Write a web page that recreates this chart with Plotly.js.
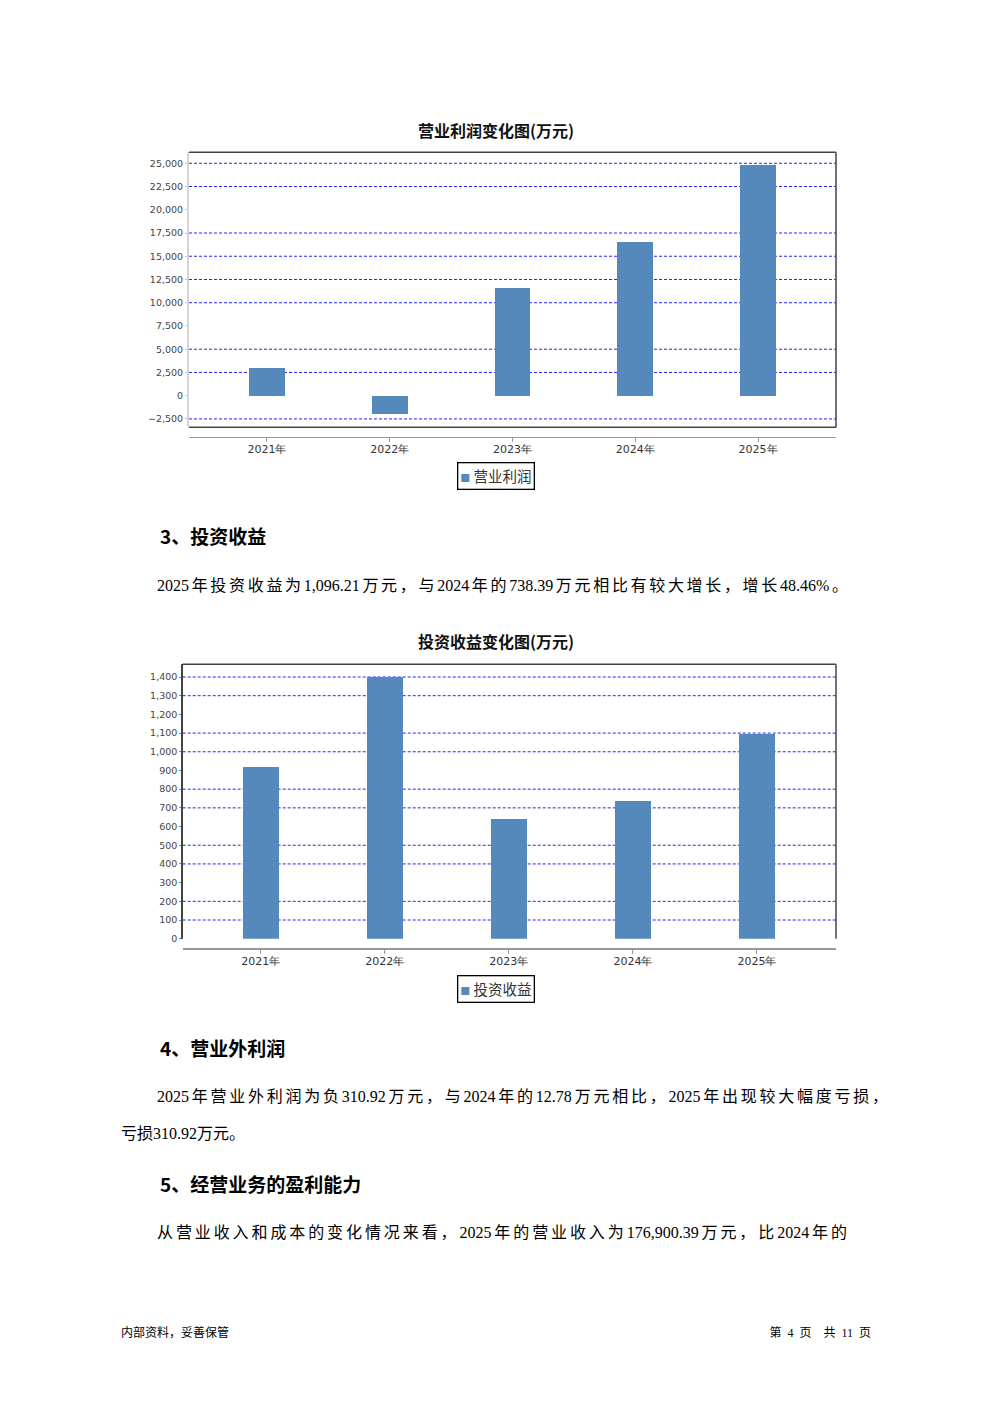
<!DOCTYPE html>
<html><head><meta charset="utf-8">
<script src="https://cdn.plot.ly/plotly-3.0.1.min.js"></script>
<style>
html,body{margin:0;padding:0;background:#fff;}
#page{position:relative;width:992px;height:1403px;overflow:hidden;background:#fff;}
#plot{position:absolute;left:0;top:0;width:992px;height:1403px;}
.t{position:absolute;white-space:nowrap;color:#000;z-index:5;font-family:"Liberation Serif","Noto Sans CJK SC",serif;}
.p{font-size:16px;line-height:20px;}
.j{text-align:justify;text-align-last:justify;text-justify:inter-character;}
.h{font-family:"Noto Sans CJK SC",sans-serif;font-weight:700;font-size:19px;line-height:24px;}
.f{font-size:12px;line-height:16px;}
</style></head>
<body>
<div id="page">
<div id="plot"></div>
<div class="t h" style="left:160px;top:524px;">3、投资收益</div>
<div class="t p j" style="left:157px;top:576px;width:691px;">2025年投资收益为1,096.21万元，与2024年的738.39万元相比有较大增长，增长48.46%。</div>
<div class="t h" style="left:160px;top:1036px;">4、营业外利润</div>
<div class="t p j" style="left:157px;top:1087px;width:731px;">2025年营业外利润为负310.92万元，与2024年的12.78万元相比，2025年出现较大幅度亏损，</div>
<div class="t p" style="left:121px;top:1124px;">亏损310.92万元。</div>
<div class="t h" style="left:160px;top:1172px;">5、经营业务的盈利能力</div>
<div class="t p j" style="left:157px;top:1223px;width:690px;">从营业收入和成本的变化情况来看，2025年的营业收入为176,900.39万元，比2024年的</div>
<div class="t f" style="left:121px;top:1325px;">内部资料，妥善保管</div>
<div class="t f" style="right:121px;top:1325px;word-spacing:3px;">第 4 页 &nbsp;共 11 页</div>
</div>
<script>
// ---- data ----
const years = ['2021年', '2022年', '2023年', '2024年', '2025年'];
const opProfitName = '营业利润';
const opProfit = [2950, -1970, 11630, 16530, 24810];
const invIncomeName = '投资收益';
const invIncome = [916, 1401, 642, 738.39, 1096.21];
const title1 = '营业利润变化图(万元)';
const title2 = '投资收益变化图(万元)';
const grid1 = [25000, 22500, 17500, 15000, 12500, 10000, 5000, 2500, -2500];
const grid2 = [1400, 1300, 1100, 1000, 800, 700, 500, 400, 200, 100];

// ---- helpers (pixel -> paper) ----
const W = 992, H = 1403;
const px = x => x / W;
const py = y => 1 - y / H;
const barColor = '#5589bb';
const tickFont = {family: 'DejaVu Sans, sans-serif', size: 9.5, color: '#444'};
const catFont = {family: 'DejaVu Sans, sans-serif', size: 11, color: '#333'};
const cjk = 'Noto Sans CJK SC, sans-serif';

const traces = [
  {type: 'bar', x: years, y: opProfit, name: opProfitName, xaxis: 'x', yaxis: 'y',
   width: 0.293, marker: {color: barColor}, showlegend: false, hoverinfo: 'x+y'},
  {type: 'bar', x: years, y: invIncome, name: invIncomeName, xaxis: 'x2', yaxis: 'y2',
   width: 0.29, marker: {color: barColor}, showlegend: false, hoverinfo: 'x+y'}
];

function gridShapes(vals, xr, yr) {
  return vals.map(v => ({type: 'line', xref: xr + ' domain', yref: yr, x0: 0, x1: 1, y0: v, y1: v,
    line: {color: '#2323ff', width: 1, dash: '3px,2px'}, layer: 'below'}));
}
const frameLine = (x0, y0, x1, y1, c) => ({type: 'line', xref: 'paper', yref: 'paper',
  x0: px(x0), y0: py(y0), x1: px(x1), y1: py(y1), line: {color: c || '#444', width: 1.5}, layer: 'above'});

const shapes = [].concat(
  gridShapes(grid1, 'x', 'y'),
  gridShapes(grid2, 'x2', 'y2'),
  [frameLine(189, 152.3, 836, 152.3), frameLine(836, 152.3, 836, 427.3), frameLine(189, 427.3, 836, 427.3),
   frameLine(182.7, 664.3, 836, 664.3), frameLine(836, 664.3, 836, 938.7)]
);

function legendAnn(name, x, y) {
  return {xref: 'paper', yref: 'paper', x: px(x), y: py(y), xanchor: 'left', yanchor: 'top',
    showarrow: false, bordercolor: '#000', borderwidth: 1.3, borderpad: 2, bgcolor: '#fff',
    text: '<span style="color:' + barColor + ';font-size:10px">■</span> ' + name,
    font: {family: cjk, size: 14.5, color: '#333'}};
}
function titleAnn(t, y) {
  return {xref: 'paper', yref: 'paper', x: px(496), y: py(y), xanchor: 'center', yanchor: 'middle',
    showarrow: false, text: '<b>' + t + '</b>', font: {family: cjk, size: 16, color: '#111'}};
}

const layout = {
  width: W, height: H, margin: {l: 0, r: 0, t: 0, b: 0},
  paper_bgcolor: '#fff', plot_bgcolor: '#fff', showlegend: false, bargap: 0,
  xaxis: {domain: [px(189), px(836)], anchor: 'free', position: py(436.5), type: 'category',
    range: [-0.635, 4.635], showline: true, linecolor: '#999', linewidth: 1.5,
    ticks: 'outside', ticklen: 4, tickcolor: '#999', tickfont: catFont, ticklabelstandoff: -2,
    showgrid: false, zeroline: false, fixedrange: true},
  yaxis: {domain: [py(427.3), py(152.3)], anchor: 'x', range: [-3400, 26180], tick0: 0, dtick: 2500,
    tickformat: ',d', tickfont: tickFont, ticks: 'outside', ticklen: 2, tickcolor: '#ccc',
    showline: true, linecolor: '#d4d4d4', linewidth: 2, showgrid: false, zeroline: false, fixedrange: true},
  xaxis2: {domain: [px(182.7), px(836)], anchor: 'free', position: py(948.3), type: 'category',
    range: [-0.629, 4.637], showline: true, linecolor: '#999', linewidth: 1.5,
    ticks: 'outside', ticklen: 4, tickcolor: '#999', tickfont: catFont, ticklabelstandoff: -2,
    showgrid: false, zeroline: false, fixedrange: true},
  yaxis2: {domain: [py(938.7), py(664.3)], anchor: 'x2', range: [0, 1468], tick0: 0, dtick: 100,
    tickformat: ',d', tickfont: tickFont, ticks: 'outside', ticklen: 2, tickcolor: '#888',
    showline: true, linecolor: '#444', linewidth: 1.5, showgrid: false, zeroline: false, fixedrange: true},
  shapes: shapes,
  annotations: [titleAnn(title1, 130), titleAnn(title2, 641),
    legendAnn(opProfitName, 457, 462.3), legendAnn(invIncomeName, 457, 974.5)]
};

Plotly.newPlot('plot', traces, layout, {displayModeBar: false, staticPlot: true});
</script>
</body></html>
